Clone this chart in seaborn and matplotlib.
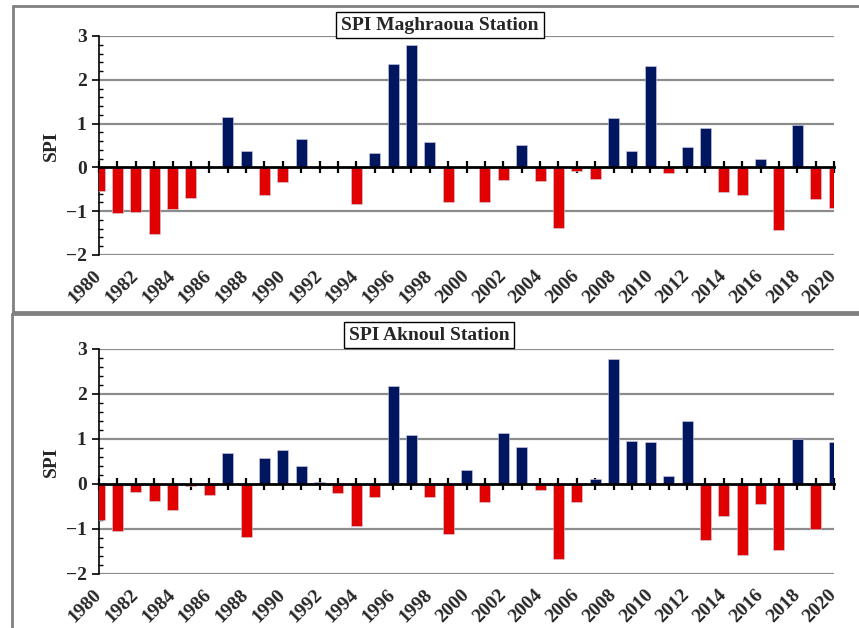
import matplotlib
matplotlib.use("Agg")
import matplotlib.pyplot as plt
from matplotlib.lines import Line2D
from matplotlib.ticker import MultipleLocator
import seaborn as sns
import pandas as pd

years = list(range(1980, 2021))

spi_maghraoua = [
    -0.55, -1.05, -1.03, -1.53, -0.96, -0.71, 0.0, 1.15, 0.38, -0.63,
    -0.34, 0.64, 0.0, 0.0, -0.83, 0.33, 2.36, 2.80, 0.59, -0.78,
    0.0, -0.78, -0.29, 0.50, -0.31, -1.39, -0.09, -0.27, 1.12, 0.38,
    2.31, -0.13, 0.47, 0.89, -0.57, -0.62, 0.18, -1.44, 0.97, -0.73,
    -0.92,
]

spi_aknoul = [
    -0.81, -1.05, -0.17, -0.37, -0.58, -0.05, -0.24, 0.69, -1.18, 0.58,
    0.76, 0.41, 0.04, -0.21, -0.94, -0.28, 2.18, 1.09, -0.30, -1.12,
    0.30, -0.41, 1.13, 0.82, -0.13, -1.66, -0.39, 0.10, 2.77, 0.96,
    0.93, 0.17, 1.41, -1.25, -0.71, -1.57, -0.44, -1.46, 1.01, -0.99,
    0.93,
]

titles = ["SPI Maghraoua Station", "SPI Aknoul Station"]
palette = {"wet": "#00175F", "dry": "#E00000"}

sns.set_theme(style="white")
plt.rcParams["font.family"] = ["Liberation Serif", "DejaVu Serif"]
plt.rcParams["font.weight"] = "bold"

fig = plt.figure(figsize=(8.59, 6.28), dpi=100)

# axes placement in figure fraction: [left, bottom, width, height]
axes_pos = [[0.1153, 0.594, 0.8557, 0.3487], [0.1153, 0.086, 0.8557, 0.3583]]
title_pos = [(0.464, 1.05), (0.449, 1.062)]


def draw_panel(ax, values, title, tpos):
    df = pd.DataFrame({"year": years, "spi": values})
    df["kind"] = ["wet" if v > 0 else "dry" for v in values]
    sns.barplot(data=df, x="year", y="spi", hue="kind", palette=palette,
                native_scale=True, dodge=False, width=0.6, legend=False,
                saturation=1, edgecolor="#d0d0e8", linewidth=0.4, ax=ax,
                zorder=3)

    ax.set_xlim(1980, 2020)
    ax.set_ylim(-2, 3)
    ax.set_xlabel("")
    ax.set_ylabel("SPI", fontsize=14, fontweight="bold", labelpad=4)

    # gridlines
    for g in [-2, -1, 1, 2, 3]:
        ax.axhline(g, color="#8c8c8c", lw=1.6, zorder=1)

    # spines: x axis sits on zero
    ax.spines["top"].set_visible(False)
    ax.spines["right"].set_visible(False)
    ax.spines["bottom"].set_position(("data", 0))
    ax.spines["bottom"].set_color("black")
    ax.spines["bottom"].set_linewidth(2)
    ax.spines["bottom"].set_zorder(4)
    ax.spines["left"].set_color("black")
    ax.spines["left"].set_linewidth(1.2)

    ax.xaxis.set_major_locator(MultipleLocator(1))
    ax.tick_params(axis="x", which="major", direction="inout", length=8,
                   width=1.6, color="black", labelbottom=False, bottom=True)

    ax.yaxis.set_major_locator(MultipleLocator(1))
    ax.yaxis.set_minor_locator(MultipleLocator(0.2))
    ax.tick_params(axis="y", which="major", direction="out", length=5,
                   width=1.2, color="black", labelsize=14, left=True, pad=4)
    ax.tick_params(axis="y", which="minor", direction="in", length=3,
                   width=1.0, color="black", left=True)
    ax.set_yticks(range(-2, 4))
    ax.set_yticklabels(["\u22122", "\u22121", "0", "1", "2", "3"],
                       fontweight="bold")

    # year labels below the plot area
    sec = ax.secondary_xaxis("bottom")
    sec.set_xticks(years[::2])
    sec.set_xticklabels([str(y) for y in years[::2]], rotation=45,
                        ha="right", va="center", rotation_mode="anchor",
                        fontsize=14, fontweight="bold")
    sec.tick_params(length=0, pad=13)
    sec.spines["bottom"].set_visible(False)

    ax.text(tpos[0], tpos[1], title, transform=ax.transAxes, ha="center",
            va="center", fontsize=14, fontweight="bold", zorder=6,
            bbox=dict(boxstyle="square,pad=0.25", fc="white", ec="black",
                      lw=1.0))


for pos, vals, title, tpos in zip(axes_pos, [spi_maghraoua, spi_aknoul],
                                  titles, title_pos):
    ax = fig.add_axes(pos)
    ax.set_facecolor("none")
    draw_panel(ax, vals, title, tpos)

# panel frames (grey borders of the original screenshot)
frame = dict(color="#808080", lw=2, transform=fig.transFigure)
fig.add_artist(Line2D([0.0151, 0.0151], [0.503, 0.990], **frame))
fig.add_artist(Line2D([0.0151, 1.0], [0.990, 0.990], **frame))
fig.add_artist(Line2D([0.0151, 1.0], [0.503, 0.503], **frame))
fig.add_artist(Line2D([0.014, 0.014], [0.0, 0.500], **frame))
fig.add_artist(Line2D([0.014, 1.0], [0.500, 0.500], **frame))

fig.savefig("out.png", dpi=100)
